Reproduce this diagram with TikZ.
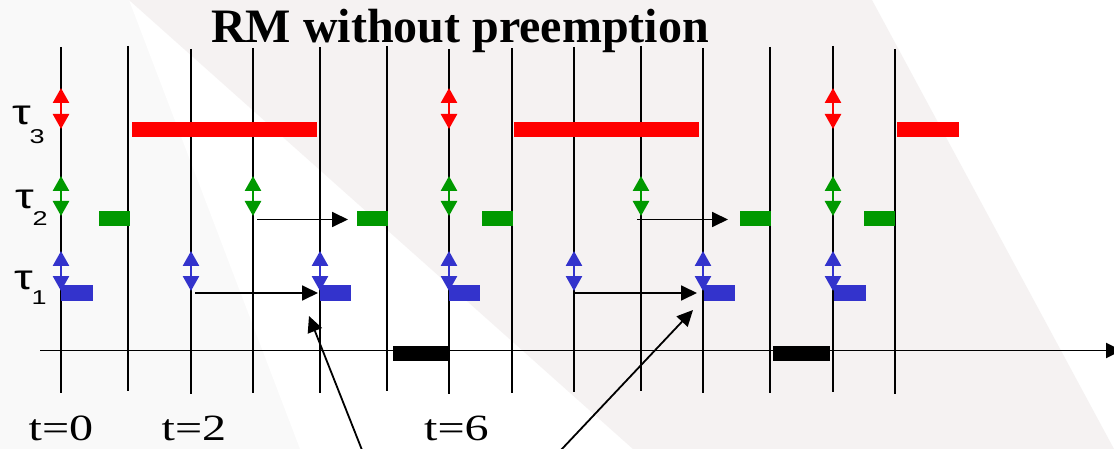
\documentclass[tikz,border=0pt]{standalone}
\usepackage{fontspec}
\usepackage{graphicx}
\setmainfont{Liberation Serif}
\newfontfamily\sansf{Liberation Sans}
\usetikzlibrary{arrows.meta}
\definecolor{taured}{RGB}{255,0,0}
\definecolor{taugreen}{RGB}{0,153,0}
\definecolor{taublue}{RGB}{51,51,204}
\definecolor{bgpink}{RGB}{245,242,242}
\definecolor{bglight}{RGB}{249,249,249}
\begin{document}
\begin{tikzpicture}[x=1pt,y=-1pt,
  vline/.style={line width=1.9pt},
  relarrow/.style={line width=2.6pt,{Triangle[length=15pt,width=16pt]}-{Triangle[length=15pt,width=16pt]}},
  harrow/.style={line width=1.8pt,-{Triangle[length=16pt,width=15pt]}},
  bar/.style={rectangle,inner sep=0pt,minimum height=15pt,anchor=west},
  tlabel/.style={anchor=base,inner sep=0pt,font=\fontsize{37}{37}\selectfont},
  taulabel/.style={anchor=base west,inner sep=0pt,font=\sansf\fontsize{35}{35}\selectfont}]
\useasboundingbox (0,0) rectangle (1114,449);
\clip (0,0) rectangle (1114,449);
% background
\fill[bglight] (0,0) rectangle (1114,449);
\fill[white] (129,0) -- (300,449) -- (1114,449) -- (1114,0) -- cycle;
\fill[bgpink] (129,0) -- (633,449) -- (1114,449) -- (872,0) -- cycle;
% title
\node[anchor=base,inner sep=0pt,font=\bfseries\fontsize{48}{48}\selectfont] (title) at (460,43) {RM without preemption};
% vertical time lines
\foreach \x/\t/\b in {61/47/393,128/46/391,191/49/394,253/48/393,320/47/393,387/46/391,449/49/394,512/48/393,574/47/392,641/46/391,703/48/393,770/47/393,833/46/392,895/49/394}
  \draw[vline] (\x,\t) -- (\x,\b);
% axis
\coordinate (axs) at (40,350.5);
\coordinate (axe) at (1122,350.5);
\draw[line width=1.9pt,-{Triangle[length=16pt,width=15pt]}] (axs) -- (axe);
% idle bars
\node[bar,fill=black,minimum width=57pt] (idle1) at (393,353.5) {};
\node[bar,fill=black,minimum width=57pt] (idle2) at (773,353.5) {};
% task 3 (red)
\node[bar,fill=taured,minimum width=185pt] (r1) at (132,129.5) {};
\node[bar,fill=taured,minimum width=185pt] (r2) at (514,129.5) {};
\node[bar,fill=taured,minimum width=62pt] (r3) at (897,129.5) {};
% task 2 (green)
\node[bar,fill=taugreen,minimum width=31pt] (g1) at (99,218.5) {};
\node[bar,fill=taugreen,minimum width=31pt] (g2) at (357,218.5) {};
\node[bar,fill=taugreen,minimum width=31pt] (g3) at (482,218.5) {};
\node[bar,fill=taugreen,minimum width=31pt] (g4) at (740,218.5) {};
\node[bar,fill=taugreen,minimum width=31pt] (g5) at (864,218.5) {};
% task 1 (blue)
\node[bar,fill=taublue,minimum width=32pt,minimum height=16pt] (b1) at (61,293) {};
\node[bar,fill=taublue,minimum width=31pt,minimum height=16pt] (b2) at (320,293) {};
\node[bar,fill=taublue,minimum width=31pt,minimum height=16pt] (b3) at (449,293) {};
\node[bar,fill=taublue,minimum width=31pt,minimum height=16pt] (b4) at (704,293) {};
\node[bar,fill=taublue,minimum width=32pt,minimum height=16pt] (b5) at (834,293) {};
% release markers
\foreach \x in {61,449,833}
  \draw[relarrow,taured] (\x,88) -- (\x,129);
\foreach \x in {61,253,449,641,833}
  \draw[relarrow,taugreen] (\x,176) -- (\x,216);
\foreach \x in {61,191,320,449,574,703,833}
  \draw[relarrow,taublue] (\x,251) -- (\x,291);
% delayed-start arrows
\coordinate (hb1s) at (195,293);   \coordinate (hb1e) at (318,293);
\coordinate (hg1s) at (257,219.5); \coordinate (hg1e) at (348,219.5);
\coordinate (hb2s) at (575,293);   \coordinate (hb2e) at (697,293);
\coordinate (hg2s) at (637,219.5); \coordinate (hg2e) at (728,219.5);
\draw[harrow] (hb1s) -- (hb1e);
\draw[harrow] (hg1s) -- (hg1e);
\draw[harrow] (hb2s) -- (hb2e);
\draw[harrow] (hg2s) -- (hg2e);
% pointer arrows from below
\coordinate (p1s) at (362,450); \coordinate (p1e) at (309,316);
\coordinate (p2s) at (561,450); \coordinate (p2e) at (693,310);
\draw[harrow] (p1s) -- (p1e);
\draw[harrow] (p2s) -- (p2e);
% task labels
\node[taulabel] (tau3) at (12,125) {\scalebox{1.35}[1]{τ\kern-1pt\raisebox{-19pt}{\fontsize{20}{20}\selectfont 3}}};
\node[taulabel] (tau2) at (15,209) {\scalebox{1.35}[1]{τ\kern-1pt\raisebox{-17pt}{\fontsize{20}{20}\selectfont 2}}};
\node[taulabel] (tau1) at (14,290) {\scalebox{1.35}[1]{τ\kern-1pt\raisebox{-15pt}{\fontsize{20}{20}\selectfont 1}}};
% time labels
\node[tlabel] (t0) at (61,440) {\scalebox{1.3}[1]{t=0}};
\node[tlabel] (t2) at (194,440) {\scalebox{1.3}[1]{t=2}};
\node[tlabel] (t6) at (456.5,440) {\scalebox{1.3}[1]{t=6}};
\end{tikzpicture}
\end{document}
